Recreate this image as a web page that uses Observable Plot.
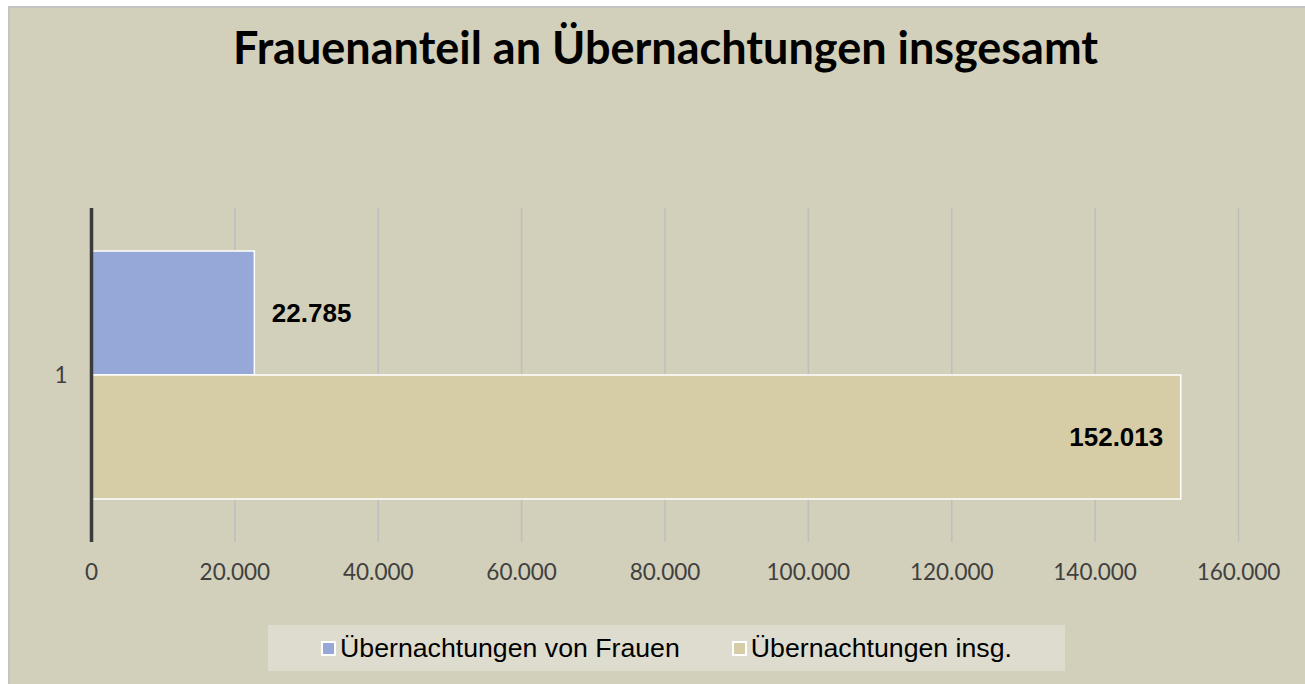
<!DOCTYPE html>
<html>
<head>
<meta charset="utf-8">
<script src="https://cdn.jsdelivr.net/npm/d3@7"></script>
<script src="https://cdn.jsdelivr.net/npm/@observablehq/plot@0.6"></script>
<style>
  html, body { margin: 0; padding: 0; background: #ffffff; width: 1305px; height: 684px; overflow: hidden; }
  #bg { position: absolute; left: 8px; top: 6px; right: 0; bottom: 0; background: #d2cfba; border-left: 2px solid #c4c4c4; border-top: 2px solid #c4c4c4; }
  #title { position: absolute; left: 26px; right: 0; top: 20px; text-align: center; font-family: Lato, sans-serif; font-weight: 700; font-size: 45px; line-height: 54px; color: #000; }
  #chart { position: absolute; left: 0; top: 150px; }
  #legend { position: absolute; left: 268px; top: 625px; width: 797px; height: 46px; background: #dedccf; display: flex; align-items: center; justify-content: center; font-family: "Liberation Sans", Arial, sans-serif; font-size: 26.7px; color: #000; }
  .item { display: flex; align-items: center; }
  .item + .item { margin-left: 52px; }
  .sw { width: 11px; height: 11px; border: 2px solid #ffffff; margin-right: 4px; }
</style>
</head>
<body>
<div id="bg"></div>
<div id="title">Frauenanteil an Übernachtungen insgesamt</div>
<div id="chart"></div>
<div id="legend"></div>
<script>
const categories = ["1"];
const series = ["Übernachtungen von Frauen", "Übernachtungen insg."];
const values = [22785, 152013];
const colors = ["#95a8d7", "#d6cda7"];
const xTicks = [0, 20000, 40000, 60000, 80000, 100000, 120000, 140000, 160000];

const locale = d3.formatLocale({decimal: ",", thousands: ".", grouping: [3], currency: ["", " €"]});
const fmt = locale.format(",d");

const data = series.map((s, i) => ({cat: categories[0], series: s, value: values[i]}));

const plot = Plot.plot({
  width: 1305,
  height: 450,
  marginLeft: 91,
  marginRight: 67,
  marginTop: 58,
  marginBottom: 58,
  style: {background: "transparent", fontFamily: "Lato, sans-serif", fontSize: "22.5px", color: "#404040"},
  x: {domain: [0, 160000], ticks: xTicks, tickFormat: fmt, tickSize: 0, tickPadding: 22, label: null, grid: false},
  y: {domain: series, paddingInner: 0, paddingOuter: 0.336, axis: null},
  fy: {domain: categories, padding: 0, label: null, tickSize: 0, tickPadding: 24},
  color: {domain: series, range: colors},
  marks: [
    Plot.gridX(xTicks, {stroke: "#bebebe", strokeOpacity: 1, strokeWidth: 1.5}),
    Plot.barX(data, {x: "value", y: "series", fy: "cat", fill: "series", stroke: "#ffffff", strokeWidth: 1.5}),
    Plot.ruleX([0], {stroke: "#3b3b3b", strokeWidth: 3.5}),
    Plot.text(data.filter(d => d.series === series[0]), {x: "value", y: "series", fy: "cat", text: d => fmt(d.value), textAnchor: "start", dx: 17, fontFamily: "Liberation Sans, Arial, sans-serif", fontWeight: "bold", fontSize: 26, fill: "#000000"}),
    Plot.text(data.filter(d => d.series === series[1]), {x: "value", y: "series", fy: "cat", text: d => fmt(d.value), textAnchor: "end", dx: -18, fontFamily: "Liberation Sans, Arial, sans-serif", fontWeight: "bold", fontSize: 26, fill: "#000000"})
  ]
});
document.getElementById("chart").appendChild(plot);

const legend = document.getElementById("legend");
series.forEach((s, i) => {
  const item = document.createElement("div");
  item.className = "item";
  const sw = document.createElement("div");
  sw.className = "sw";
  sw.style.background = colors[i];
  const t = document.createElement("span");
  t.textContent = s;
  item.appendChild(sw);
  item.appendChild(t);
  legend.appendChild(item);
});
</script>
</body>
</html>
